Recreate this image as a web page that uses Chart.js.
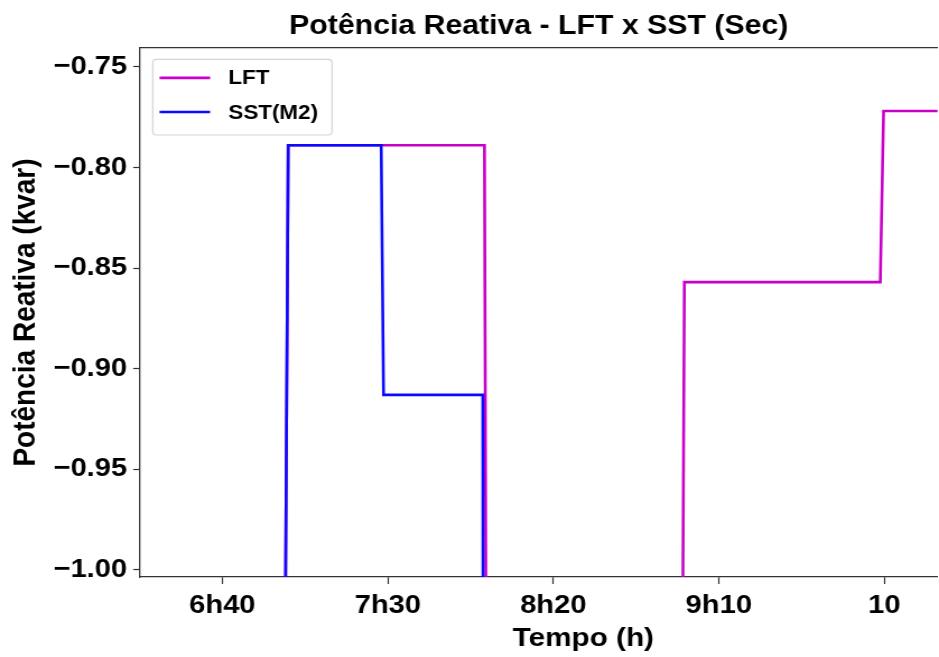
<!DOCTYPE html>
<html>
<head>
<meta charset="utf-8">
<script src="https://cdn.jsdelivr.net/npm/chart.js@4/dist/chart.umd.min.js"></script>
<style>
  html, body { margin: 0; padding: 0; background: #fff; overflow: hidden; }
  #wrap { width: 838px; height: 657px; transform: scaleX(1.1205); transform-origin: 0 0; }
</style>
</head>
<body>
<div id="wrap"><canvas id="chart"></canvas></div>
<script>
// tempo em minutos desde 00h00
const lftTime  = [375, 418.4, 419.9, 479.2, 480.0, 538.6, 539.6, 598.8, 599.8, 616.5]
const lftValue = [-1.2, -1.2, -0.789, -0.789, -1.2, -1.2, -0.857, -0.857, -0.772, -0.772]

const sstTime  = [375, 418.4, 419.9, 448.0, 448.7, 478.7, 478.9, 616.5]
const sstValue = [-1.2, -1.2, -0.789, -0.789, -0.913, -0.913, -1.2, -1.2]

const xTicks      = [400, 450, 500, 550, 600]
const xTickLabels = ['6h40', '7h30', '8h20', '9h10', '10']
const yTicks      = [-1.00, -0.95, -0.90, -0.85, -0.80, -0.75]

const FONT = "'Liberation Sans', Arial, sans-serif"
const AXIS = '#333333'

function points(xs, ys) {
  return xs.map((x, i) => ({ x, y: ys[i] }))
}

function series(label, color, xs, ys, order) {
  return {
    label,
    data: points(xs, ys),
    borderColor: color,
    backgroundColor: color,
    borderWidth: 2.6,
    pointRadius: 0,
    tension: 0,
    order,
  }
}

// rótulo do eixo x: no original não fica centrado na área do gráfico
const xLabel = {
  id: 'xLabel',
  afterDraw(chart) {
    const { ctx } = chart
    ctx.save()
    ctx.fillStyle = '#000'
    ctx.font = 'bold 26.5px ' + FONT
    ctx.textAlign = 'center'
    ctx.textBaseline = 'middle'
    ctx.fillText('Tempo (h)', 520.6, 639)
    ctx.restore()
  },
}

// legenda dentro da área do gráfico, canto superior esquerdo
const boxLegend = {
  id: 'boxLegend',
  afterDatasetsDraw(chart) {
    const { ctx } = chart
    const x = 136.3, y = 59.3, w = 160, h = 75.7
    ctx.save()
    ctx.fillStyle = 'rgba(255,255,255,0.85)'
    ctx.strokeStyle = '#d4d4d4'
    ctx.lineWidth = 1.2
    ctx.beginPath()
    ctx.roundRect(x, y, w, h, 3.5)
    ctx.fill()
    ctx.stroke()
    const rows = [77.9, 112]
    chart.data.datasets.forEach((ds, i) => {
      const ry = rows[i]
      ctx.strokeStyle = ds.borderColor
      ctx.lineWidth = 2.6
      ctx.beginPath()
      ctx.moveTo(142.4, ry)
      ctx.lineTo(187.5, ry)
      ctx.stroke()
      ctx.fillStyle = '#000'
      ctx.font = 'bold 20px ' + FONT
      ctx.textBaseline = 'middle'
      ctx.textAlign = 'left'
      ctx.fillText(ds.label, 203.8, ry + 1)
    })
    ctx.restore()
  },
}

new Chart(document.getElementById('chart'), {
  type: 'line',
  data: {
    datasets: [
      series('LFT', '#c800c8', lftTime, lftValue, 1),
      series('SST(M2)', '#0a0aff', sstTime, sstValue, 0),
    ],
  },
  plugins: [boxLegend, xLabel],
  options: {
    responsive: true,
    maintainAspectRatio: false,
    animation: false,
    layout: { padding: { bottom: 28.4 } },
    plugins: {
      legend: { display: false },
      tooltip: { enabled: false },
      title: { display: false },
    },
    scales: {
      x: {
        type: 'linear',
        min: 375.1,
        max: 616.1,
        afterBuildTicks: s => { s.ticks = xTicks.map(v => ({ value: v })) },
        ticks: {
          color: '#000',
          font: { family: FONT, size: 26, weight: 'bold', lineHeight: 1.0 },
          padding: 9.3,
          maxRotation: 0,
          autoSkip: false,
          callback: (v, i) => xTickLabels[i],
        },
        grid: { drawOnChartArea: false, drawTicks: true, tickLength: 7, tickColor: AXIS, tickWidth: 1.2 },
        border: { display: true, color: AXIS, width: 1.3 },
      },
      // eixo de cima: só a moldura e o título
      top: {
        type: 'linear',
        position: 'top',
        min: 375.1,
        max: 616.1,
        ticks: { display: false },
        grid: { drawOnChartArea: false, drawTicks: false },
        border: { display: true, color: AXIS, width: 1.3 },
        title: {
          display: true,
          text: 'Potência Reativa - LFT x SST (Sec)',
          color: '#000',
          font: { family: FONT, size: 27, weight: 'bold', lineHeight: 1.2 },
          padding: { top: 10.1, bottom: 5.5 },
        },
      },
      y: {
        min: -1.0035,
        max: -0.7407,
        afterBuildTicks: s => { s.ticks = yTicks.map(v => ({ value: v })) },
        ticks: {
          color: '#000',
          font: { family: FONT, size: 26, weight: 'bold' },
          padding: 5.4,
          autoSkip: false,
          callback: v => '\u2212' + Math.abs(v).toFixed(2),
        },
        grid: { drawOnChartArea: false, drawTicks: true, tickLength: 6, tickColor: AXIS, tickWidth: 1.2 },
        border: { display: true, color: AXIS, width: 1.3 },
        title: {
          display: true,
          text: 'Potência Reativa (kvar)',
          color: '#000',
          font: { family: FONT, size: 28, weight: 'bold', lineHeight: 1.2 },
          padding: { top: 6.0, bottom: 2.7 },
        },
      },
    },
  },
})
</script>
</body>
</html>
